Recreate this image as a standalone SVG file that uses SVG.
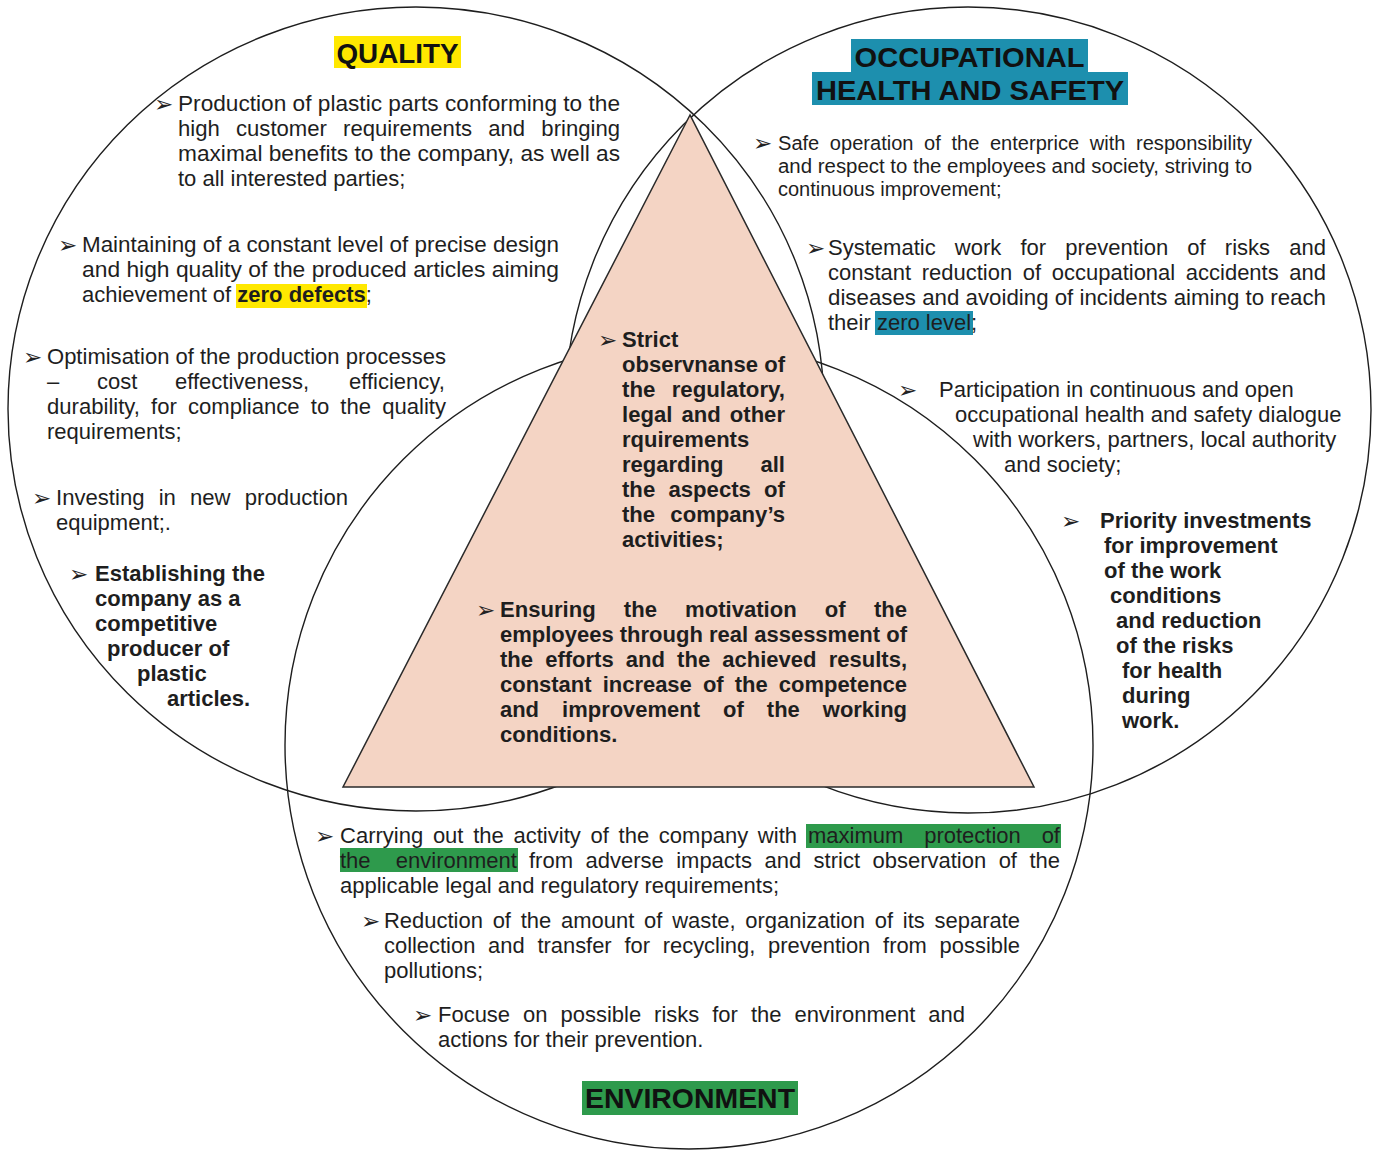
<svg xmlns="http://www.w3.org/2000/svg" width="1374" height="1150" viewBox="0 0 1374 1150">
<style>
.t{font-family:"Liberation Sans",Arial,sans-serif;font-size:22px;fill:#1e1e1e}
.b{font-weight:bold}
.s20{font-size:20px}
.ttl{font-family:"Liberation Sans",Arial,sans-serif;font-weight:bold;font-size:28px;fill:#111;text-anchor:middle}
.ar{font-family:"DejaVu Sans",sans-serif;font-size:23px;fill:#222}
.circ{fill:none;stroke:#1e1e1e;stroke-width:1.4}
.yel{fill:#ffe800}
.teal{fill:#1d8fae}
.grn{fill:#2e9a4c}
</style>
<rect width="1374" height="1150" fill="#ffffff"/>
<g id="shapes">
  <ellipse id="circle-quality" class="circ" cx="416" cy="409" rx="408" ry="402"/>
  <circle id="circle-ohs" class="circ" cx="968" cy="410" r="403"/>
  <circle id="circle-environment" class="circ" cx="689" cy="745" r="404"/>
  <polygon id="triangle" points="690,115 343,787 1034,787" fill="#f4d4c4" stroke="#2a2a2a" stroke-width="1.5"/>
</g>
<g id="connectors"/>

<g id="quality">
  <rect class="yel" x="334" y="36" width="127" height="32"/>
  <text class="ttl" x="397.5" y="63" textLength="122" lengthAdjust="spacingAndGlyphs">QUALITY</text>

  <text class="ar" x="154" y="112">➢</text>
  <text class="t" x="178" y="111" textLength="442" lengthAdjust="spacingAndGlyphs">Production of plastic parts conforming to the</text>
  <text class="t" x="178" y="136" textLength="442" lengthAdjust="spacingAndGlyphs" style="word-spacing:10px">high customer requirements and bringing</text>
  <text class="t" x="178" y="161" textLength="442" lengthAdjust="spacingAndGlyphs">maximal benefits to the company, as well as</text>
  <text class="t" x="178" y="186">to all interested parties;</text>

  <text class="ar" x="58" y="253">➢</text>
  <text class="t" x="82" y="252" textLength="477" lengthAdjust="spacingAndGlyphs">Maintaining of a constant level of precise design</text>
  <text class="t" x="82" y="277" textLength="477" lengthAdjust="spacingAndGlyphs">and high quality of the produced articles aiming</text>
  <rect class="yel" x="236" y="284" width="131" height="24"/>
  <text class="t" x="82" y="302">achievement of <tspan class="b">zero defects</tspan>;</text>

  <text class="ar" x="23" y="365">➢</text>
  <text class="t" x="47" y="364" textLength="399" lengthAdjust="spacingAndGlyphs">Optimisation of the production processes</text>
  <text class="t" y="389"><tspan x="47">–</tspan><tspan x="97">cost</tspan><tspan x="175">effectiveness,</tspan><tspan x="349">efficiency,</tspan></text>
  <text class="t" x="47" y="414" textLength="399" lengthAdjust="spacingAndGlyphs" style="word-spacing:5px">durability, for compliance to the quality</text>
  <text class="t" x="47" y="439">requirements;</text>

  <text class="ar" x="32" y="506">➢</text>
  <text class="t" x="56" y="505" textLength="292" lengthAdjust="spacingAndGlyphs" style="word-spacing:8px">Investing in new production</text>
  <text class="t" x="56" y="530">equipment;.</text>

  <text class="ar" x="69" y="582">➢</text>
  <text class="t b" x="95" y="581">Establishing the</text>
  <text class="t b" x="95" y="606">company as a</text>
  <text class="t b" x="95" y="631">competitive</text>
  <text class="t b" x="107" y="656">producer of</text>
  <text class="t b" x="137" y="681">plastic</text>
  <text class="t b" x="167" y="706">articles.</text>
</g>

<g id="ohs">
  <rect class="teal" x="851" y="39" width="237" height="33"/>
  <rect class="teal" x="812" y="72" width="316" height="33"/>
  <text class="ttl" x="969.5" y="67" textLength="230" lengthAdjust="spacingAndGlyphs">OCCUPATIONAL</text>
  <text class="ttl" x="970" y="100" textLength="308" lengthAdjust="spacingAndGlyphs">HEALTH AND SAFETY</text>

  <text class="ar" x="753" y="151">➢</text>
  <text class="t s20" x="778" y="150" textLength="474" lengthAdjust="spacingAndGlyphs" style="word-spacing:5px">Safe operation of the enterprice with responsibility</text>
  <text class="t s20" x="778" y="173" textLength="474" lengthAdjust="spacingAndGlyphs">and respect to the employees and society, striving to</text>
  <text class="t s20" x="778" y="196">continuous improvement;</text>

  <text class="ar" x="806" y="256">➢</text>
  <text class="t" x="828" y="255" textLength="498" lengthAdjust="spacingAndGlyphs" style="word-spacing:13px">Systematic work for prevention of risks and</text>
  <text class="t" x="828" y="280" textLength="498" lengthAdjust="spacingAndGlyphs" style="word-spacing:4.5px">constant reduction of occupational accidents and</text>
  <text class="t" x="828" y="305" textLength="498" lengthAdjust="spacingAndGlyphs">diseases and avoiding of incidents aiming to reach</text>
  <rect class="teal" x="875" y="311" width="98" height="24"/>
  <text class="t" x="828" y="330">their zero level;</text>

  <text class="ar" x="898" y="398">➢</text>
  <text class="t" x="939" y="397">Participation in continuous and open</text>
  <text class="t" x="955" y="422">occupational health and safety dialogue</text>
  <text class="t" x="973" y="447">with workers, partners, local authority</text>
  <text class="t" x="1004" y="472">and society;</text>

  <text class="ar" x="1061" y="529">➢</text>
  <text class="t b" x="1100" y="528">Priority investments</text>
  <text class="t b" x="1104" y="553">for improvement</text>
  <text class="t b" x="1104" y="578">of the work</text>
  <text class="t b" x="1110" y="603">conditions</text>
  <text class="t b" x="1116" y="628">and reduction</text>
  <text class="t b" x="1116" y="653">of the risks</text>
  <text class="t b" x="1122" y="678">for health</text>
  <text class="t b" x="1122" y="703">during</text>
  <text class="t b" x="1122" y="728">work.</text>
</g>

<g id="center">
  <text class="ar" x="598" y="348">➢</text>
  <text class="t b" x="622" y="347">Strict</text>
  <text class="t b" x="622" y="372" textLength="163" lengthAdjust="spacingAndGlyphs">observnanse of</text>
  <text class="t b" x="622" y="397" textLength="163" lengthAdjust="spacingAndGlyphs" style="word-spacing:10px">the regulatory,</text>
  <text class="t b" x="622" y="422" textLength="163" lengthAdjust="spacingAndGlyphs" style="word-spacing:3px">legal and other</text>
  <text class="t b" x="622" y="447">rquirements</text>
  <text class="t b" x="622" y="472" textLength="163" lengthAdjust="spacingAndGlyphs" style="word-spacing:31px">regarding all</text>
  <text class="t b" x="622" y="497" textLength="163" lengthAdjust="spacingAndGlyphs" style="word-spacing:7px">the aspects of</text>
  <text class="t b" x="622" y="522" textLength="163" lengthAdjust="spacingAndGlyphs" style="word-spacing:9px">the company’s</text>
  <text class="t b" x="622" y="547">activities;</text>

  <text class="ar" x="476" y="618">➢</text>
  <text class="t b" x="500" y="617" textLength="407" lengthAdjust="spacingAndGlyphs" style="word-spacing:22px">Ensuring the motivation of the</text>
  <text class="t b" x="500" y="642" textLength="407" lengthAdjust="spacingAndGlyphs">employees through real assessment of</text>
  <text class="t b" x="500" y="667" textLength="407" lengthAdjust="spacingAndGlyphs" style="word-spacing:6px">the efforts and the achieved results,</text>
  <text class="t b" x="500" y="692" textLength="407" lengthAdjust="spacingAndGlyphs" style="word-spacing:5px">constant increase of the competence</text>
  <text class="t b" x="500" y="717" textLength="407" lengthAdjust="spacingAndGlyphs" style="word-spacing:17px">and improvement of the working</text>
  <text class="t b" x="500" y="742">conditions.</text>
</g>

<g id="environment">
  <rect class="grn" x="806" y="824" width="255" height="24"/>
  <rect class="grn" x="340" y="848" width="178" height="24"/>
  <text class="ar" x="315" y="844">➢</text>
  <text class="t" x="340" y="843" textLength="457" lengthAdjust="spacingAndGlyphs" style="word-spacing:3.6px">Carrying out the activity of the company with</text>
  <text class="t" x="808" y="843" textLength="252" lengthAdjust="spacingAndGlyphs" style="word-spacing:14.7px">maximum protection of</text>
  <text class="t" x="340" y="868" textLength="177" lengthAdjust="spacingAndGlyphs" style="word-spacing:19px">the environment</text>
  <text class="t" x="529" y="868" textLength="531" lengthAdjust="spacingAndGlyphs" style="word-spacing:6.3px">from adverse impacts and strict observation of the</text>
  <text class="t" x="340" y="893">applicable legal and regulatory requirements;</text>

  <text class="ar" x="361" y="929">➢</text>
  <text class="t" x="384" y="928" textLength="636" lengthAdjust="spacingAndGlyphs" style="word-spacing:3.7px">Reduction of the amount of waste, organization of its separate</text>
  <text class="t" x="384" y="953" textLength="636" lengthAdjust="spacingAndGlyphs" style="word-spacing:6.7px">collection and transfer for recycling, prevention from possible</text>
  <text class="t" x="384" y="978">pollutions;</text>

  <text class="ar" x="413" y="1023">➢</text>
  <text class="t" x="438" y="1022" textLength="527" lengthAdjust="spacingAndGlyphs" style="word-spacing:6.9px">Focuse on possible risks for the environment and</text>
  <text class="t" x="438" y="1047">actions for their prevention.</text>

  <rect class="grn" x="582" y="1081" width="216" height="34"/>
  <text class="ttl" x="690" y="1108" textLength="210" lengthAdjust="spacingAndGlyphs">ENVIRONMENT</text>
</g>
</svg>
